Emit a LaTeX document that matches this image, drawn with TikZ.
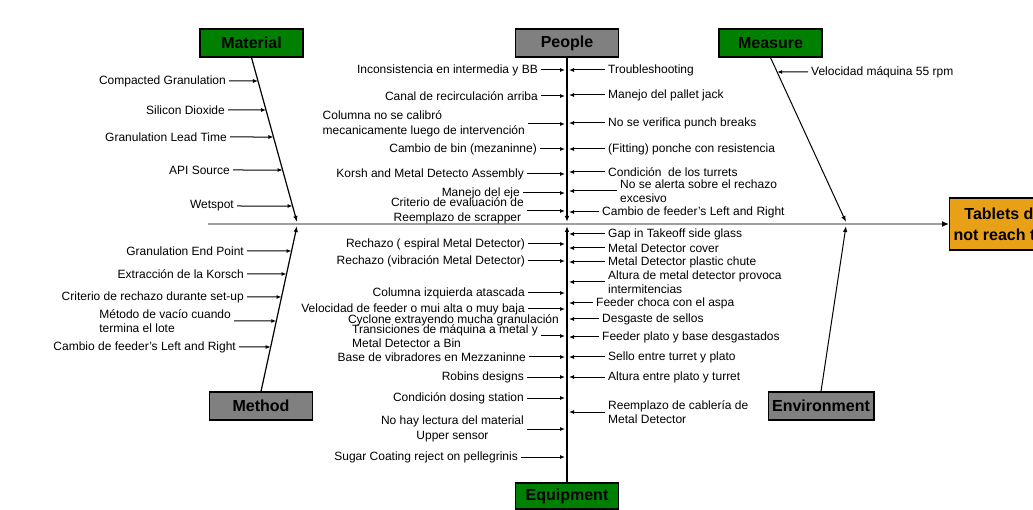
\documentclass[tikz,border=0pt]{standalone}
\usepackage{fontspec}
\setmainfont{Liberation Sans}
\usetikzlibrary{arrows.meta}

\definecolor{catgreen}{RGB}{0,128,0}
\definecolor{catgray}{RGB}{128,128,128}
\definecolor{efforange}{RGB}{232,160,22}

\tikzset{
  category/.style={draw=black, line width=1.2pt, minimum width=103pt, minimum height=28pt,
                   inner xsep=4pt, font=\bfseries\fontsize{16}{21}\selectfont},
  cause/.style={font=\fontsize{12}{14.5}\selectfont, inner xsep=3pt, inner ysep=1pt, align=left},
  arr/.style={line width=1pt, -{Latex[length=5pt,width=4pt]}},
  bone/.style={line width=1.2pt, -{Latex[length=6pt,width=4.5pt]}},
  spine/.style={line width=2.5pt, draw=gray!75, -{Latex[length=7pt,width=6pt,color=black]}}
}

\begin{document}
\begin{tikzpicture}[x=1pt,y=-1pt]

    \useasboundingbox (0,0) rectangle (1033,510);
    \clip (0,0) rectangle (1033,510);

    % Draw Effect and Spine
    \node[category, fill=efforange, anchor=west, minimum height=52pt, align=center] (eff) at (949,224) {Tablets do\\not reach the};
    \coordinate (spL) at (208,224);
    \draw[spine] (spL) -- (eff.west);

    % Draw Categories
    \node[category, fill=catgreen] (mat) at (251.5,43) {Material};
    \node[category, fill=catgray]  (peo) at (567,43)   {People};
    \node[category, fill=catgreen] (mea) at (770.5,43) {Measure};
    \node[category, fill=catgray]  (met) at (261,406)  {Method};
    \node[category, fill=catgreen, minimum height=26pt] (equ) at (567,496) {Equipment};
    \node[category, fill=catgray]  (env) at (821,406)  {Environment};

    % Draw Bones
    \coordinate (matS) at (297,222);
    \coordinate (metS) at (297,226);
    \coordinate (peoS) at (567,222);
    \coordinate (equS) at (567,226);
    \coordinate (meaS) at (846,222);
    \coordinate (envS) at (846,226);
    \draw[bone] (mat.south) -- (matS);
    \draw[bone] (met.north) -- (metS);
    \draw[bone] (peo.south) -- (peoS);
    \draw[bone] (equ.north) -- (equS);
    \draw[bone, line width=1pt] (mea.south) -- (meaS);
    \draw[bone, line width=1pt] (env.north) -- (envS);

    % Material causes
    \foreach \i/\xs/\y/\txt in {1/229/81/{Compacted Granulation}, 2/228/110/{Silicon Dioxide},
        3/230/137/{Granulation Lead Time}, 4/233/170/{API Source}, 5/237/206/{Wetspot}}{
      \node[cause, anchor=east] (mat\i) at (\xs,\y) {\txt};
      \coordinate (mat\i-end) at (intersection of mat.south--matS and 0,\y--10,\y);
      \draw[arr] (mat\i) -- (mat\i-end);
    }

    % Method causes
    \foreach \i/\xs/\y/\txt in {1/247/251/{Granulation End Point}, 2/247/274/{Extracción de la Korsch},
        3/247/297/{Criterio de rechazo durante set-up}, 4/234/321/{Método de vacío cuando\\termina el lote},
        5/239/347/{Cambio de feeder's Left and Right}}{
      \node[cause, anchor=east] (met\i) at (\xs,\y) {\txt};
      \coordinate (met\i-end) at (intersection of met.north--metS and 0,\y--10,\y);
      \draw[arr] (met\i) -- (met\i-end);
    }

    % People causes (left)
    \foreach \i/\xs/\y/\txt in {1/541/70/{Inconsistencia en intermedia y BB}, 2/541/96/{Canal de recirculación arriba},
        3/528/124/{Columna no se calibró\\mecanicamente luego de intervención}, 4/540/149/{Cambio de bin (mezaninne)},
        5/527/174/{Korsh and Metal Detecto Assembly}, 6/523/193/{Manejo del eje}}{
      \node[cause, anchor=east] (pl\i) at (\xs,\y) {\txt};
      \coordinate (pl\i-end) at (565,\y);
      \draw[arr] (pl\i) -- (pl\i-end);
    }
    \node[cause, anchor=east, align=center] (pl7) at (527,211) {Criterio de evaluación de\\Reemplazo de scrapper};
    \coordinate (pl7-end) at (565,211);
    \draw[arr] (pl7) -- (pl7-end);

    % People causes (right)
    \foreach \i/\xs/\y/\txt in {1/605/70/{Troubleshooting}, 2/605/95/{Manejo del pallet jack},
        3/605/123/{No se verifica punch breaks}, 4/605/149/{(Fitting) ponche con resistencia},
        5/605/172/{Condición\ \ de los turrets}, 6/617/191/{No se alerta sobre el rechazo\\excesivo},
        7/599/212/{Cambio de feeder's Left and Right}}{
      \node[cause, anchor=west] (pr\i) at (\xs,\y) {\txt};
      \coordinate (pr\i-end) at (569,\y);
      \draw[arr] (pr\i) -- (pr\i-end);
    }

    % Measure causes
    \node[cause, anchor=west] (mea1) at (808,72) {Velocidad máquina 55 rpm};
    \coordinate (mea1-end) at (intersection of mea.south--meaS and 0,72--10,72);
    \draw[arr] (mea1) -- (mea1-end);

    % Equipment causes (left)
    \foreach \i/\xs/\y/\txt in {1/528/244/{Rechazo ( espiral Metal Detector)}, 2/528/261/{Rechazo (vibración Metal Detector)},
        3/528/293/{Columna izquierda atascada}, 4/528/309/{Velocidad de feeder o mui alta o muy baja},
        5/541/336/{Transiciones de máquina a metal y\\Metal Detector a Bin}, 6/529/357/{Base de vibradores en Mezzaninne},
        7/527/377/{Robins designs}, 8/527/398/{Condición dosing station},
        9/521/457/{Sugar Coating reject on pellegrinis}}{
      \node[cause, anchor=east] (el\i) at (\xs,\y) {\txt};
      \coordinate (el\i-end) at (565,\y);
      \draw[arr] (el\i) -- (el\i-end);
    }
    \node[cause, anchor=east] (el10) at (562,320) {Cyclone extrayendo mucha granulación};
    \node[cause, anchor=east, align=center] (el11) at (527,429) {No hay lectura del material\\Upper sensor};
    \coordinate (el11-end) at (565,429);
    \draw[arr] (el11) -- (el11-end);

    % Equipment causes (right)
    \foreach \i/\xs/\y/\txt in {1/605/234/{Gap in Takeoff side glass}, 2/605/248/{Metal Detector cover},
        3/605/262/{Metal Detector plastic chute}, 4/605/282/{Altura de metal detector provoca\\intermitencias},
        5/593/303/{Feeder choca con el aspa}, 6/599/319/{Desgaste de sellos},
        7/599/337/{Feeder plato y base desgastados}, 8/605/357/{Sello entre turret y plato},
        9/605/377/{Altura entre plato y turret}, 10/605/412/{Reemplazo de cablería de\\Metal Detector}}{
      \node[cause, anchor=west] (er\i) at (\xs,\y) {\txt};
      \coordinate (er\i-end) at (569,\y);
      \draw[arr] (er\i) -- (er\i-end);
    }

\end{tikzpicture}
\end{document}
